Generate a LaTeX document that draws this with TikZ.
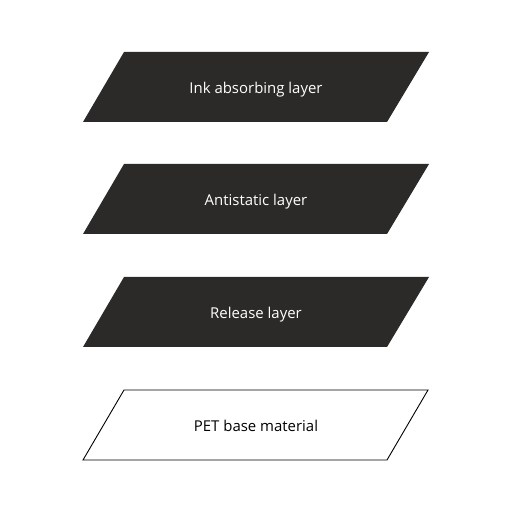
\documentclass[tikz,border=0pt]{standalone}
\usepackage{fontspec}
\setmainfont{Open Sans}
\definecolor{layergray}{RGB}{43,42,40}
\tikzset{
  darklayer/.style={fill=layergray},
  baselayer/.style={draw=black,fill=white,line width=0.9bp},
  layertext/.style={font=\fontsize{15}{18}\selectfont,inner sep=0pt},
}
\begin{document}
\begin{tikzpicture}[x=1bp,y=1bp]
  \useasboundingbox[fill=white] (0,0) rectangle (512,512);

  % Ink absorbing layer
  \fill[darklayer] (83,390) -- (387,390) -- (429,460) -- (124,460) -- cycle;
  \node[layertext,text=white] (ink) at (256,422) {Ink absorbing layer};

  % Antistatic layer
  \fill[darklayer] (83,278) -- (387,278) -- (429,348) -- (124,348) -- cycle;
  \node[layertext,text=white] (antistatic) at (256,310) {Antistatic layer};

  % Release layer
  \fill[darklayer] (83,165) -- (387,165) -- (429,235) -- (124,235) -- cycle;
  \node[layertext,text=white] (release) at (256,197) {Release layer};

  % PET base material
  \draw[baselayer] (83,52) -- (387,52) -- (428,122) -- (124,122) -- cycle;
  \node[layertext,text=black] (pet) at (256,86) {PET base material};

\end{tikzpicture}
\end{document}
